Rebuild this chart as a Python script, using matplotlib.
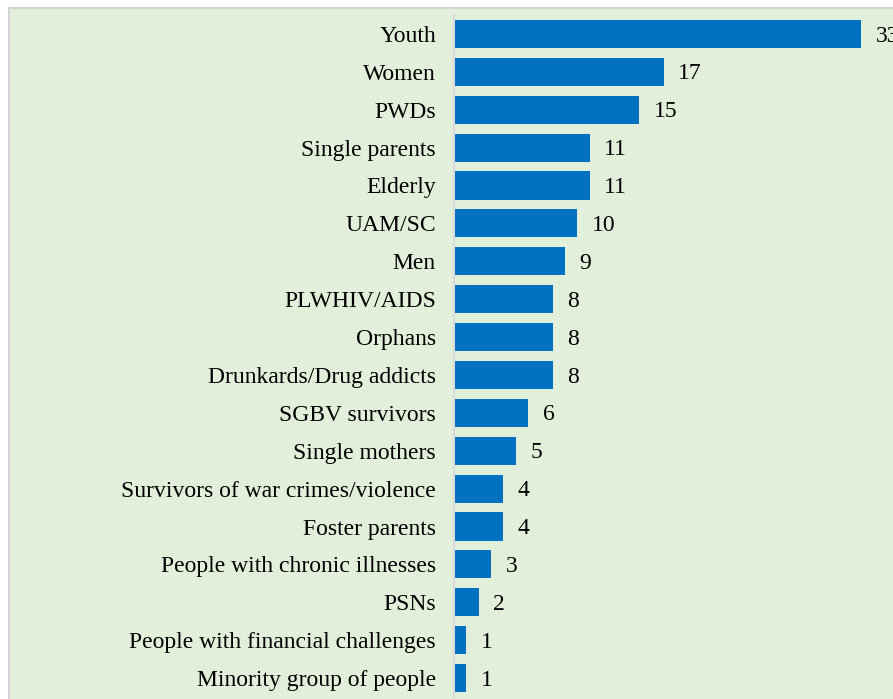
import matplotlib
matplotlib.use("Agg")
import matplotlib.pyplot as plt
from matplotlib.patches import Rectangle

# Groups named as vulnerable, with number of mentions
groups = [
    "Youth", "Women", "PWDs", "Single parents", "Elderly", "UAM/SC", "Men",
    "PLWHIV/AIDS", "Orphans", "Drunkards/Drug addicts", "SGBV survivors",
    "Single mothers", "Survivors of war crimes/violence", "Foster parents",
    "People with chronic illnesses", "PSNs", "People with financial challenges",
    "Minority group of people",
]
counts = [33, 17, 15, 11, 11, 10, 9, 8, 8, 8, 6, 5, 4, 4, 3, 2, 1, 1]

W, H = 893, 699
fig = plt.figure(figsize=(W / 100, H / 100), dpi=100)
fig.patch.set_facecolor("white")

# green panel with thin grey frame, kept behind the axes (runs off right/bottom)
panel = Rectangle((8.5 / W, -0.05), 1.1, 1.05 - 7.5 / H, transform=fig.transFigure,
                  facecolor="#E2EFDA", edgecolor="#D4D4D4", linewidth=1.5, zorder=-10)
fig.patches.append(panel)

left, top, bottom = 454, 15, 697
ax = fig.add_axes([left / W, (H - bottom) / H, (W - left) / W, (bottom - top) / H])
ax.set_facecolor("none")
ax.set_zorder(5)

ypos = list(range(len(groups)))
bars = ax.barh(ypos, counts, height=0.74, color="#0070C0")
ax.set_ylim(len(groups) - 0.5, -0.5)
ax.set_xlim(0, (W - left) / (407 / 33))

font = dict(fontfamily="Liberation Serif", fontsize=17, color="black")
ax.set_yticks(ypos)
ax.set_yticklabels(groups, **font)
ax.tick_params(axis="y", length=0, pad=13)
ax.set_xticks([])

for sp in ["top", "right", "bottom"]:
    ax.spines[sp].set_visible(False)
ax.spines["left"].set_color("#D9D9D9")
ax.spines["left"].set_linewidth(1.5)

for b, v in zip(bars, counts):
    ax.annotate(str(v), (b.get_width(), b.get_y() + b.get_height() / 2),
                xytext=(10.5, -1.5), textcoords="offset points", va="center", ha="left",
                annotation_clip=False, **font)

fig.savefig("out.png", dpi=100)
